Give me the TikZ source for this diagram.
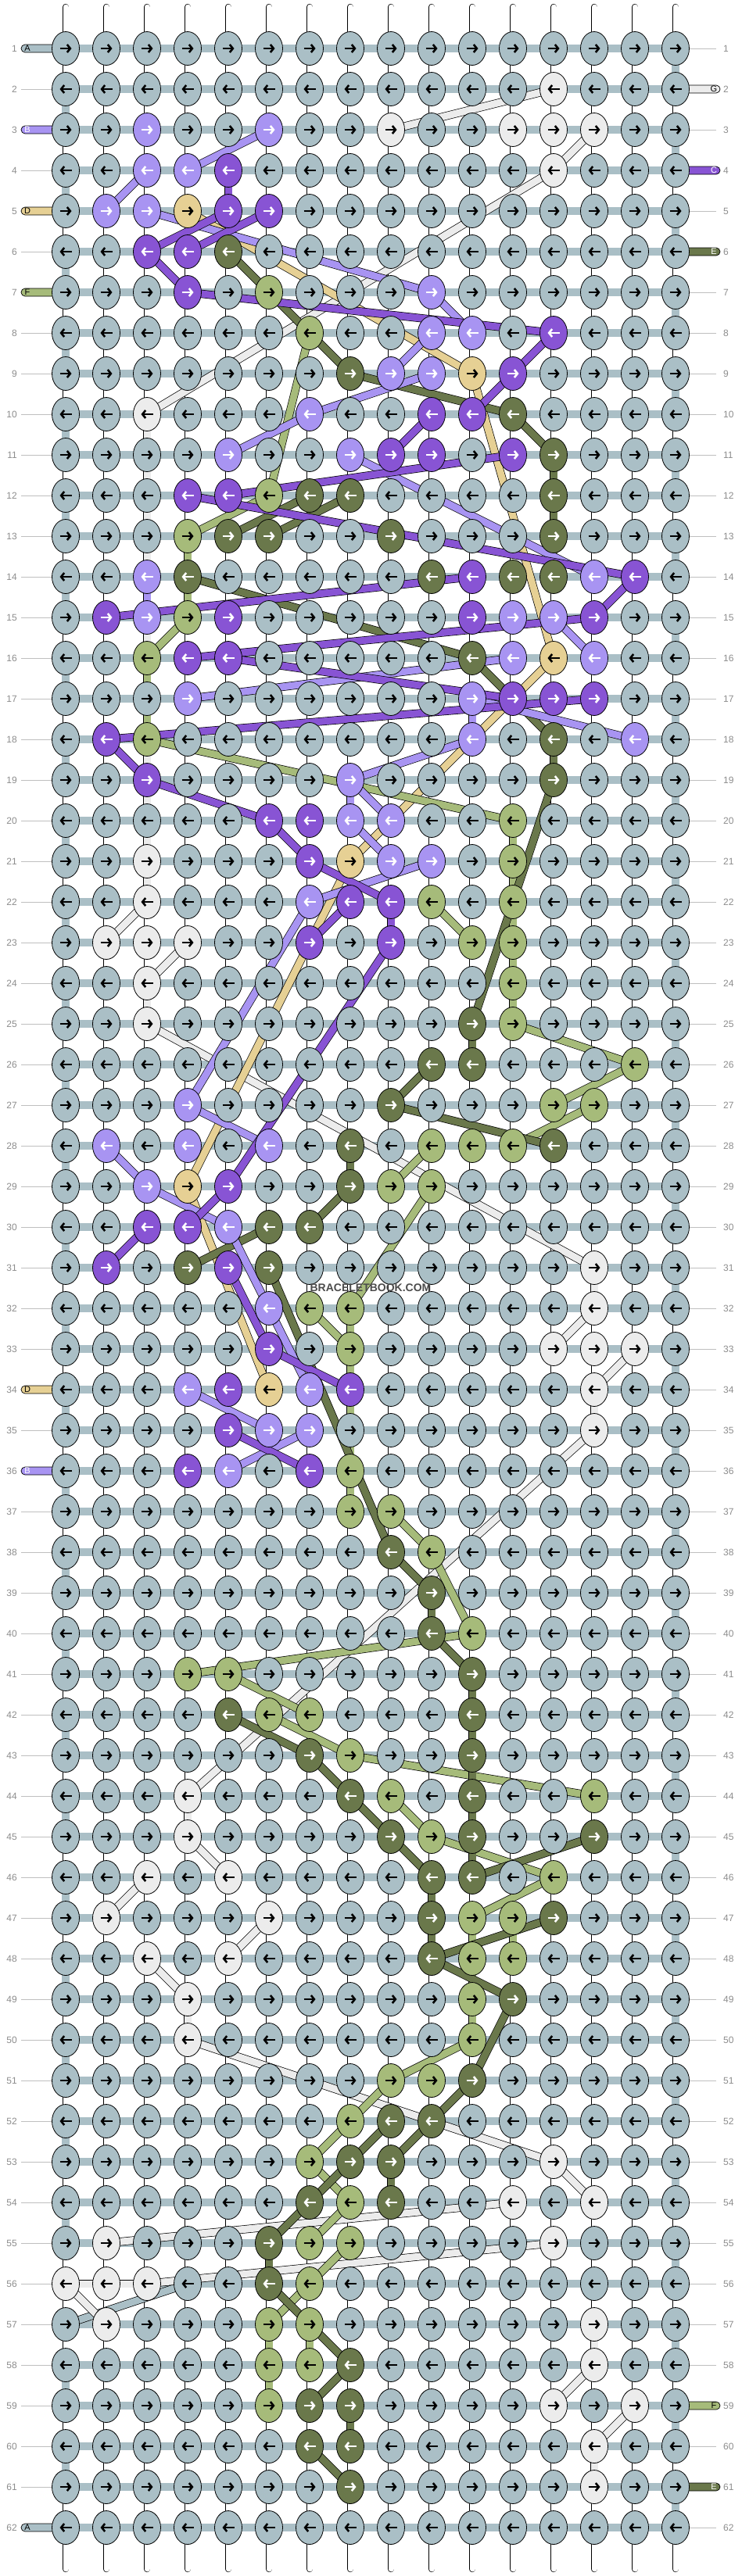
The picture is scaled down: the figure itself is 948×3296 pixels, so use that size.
\documentclass[tikz,border=0pt]{standalone}
\usepackage{fontspec}
\setmainfont{Liberation Sans}
\usepackage{xstring}
\usetikzlibrary{shapes.geometric,arrows.meta}

\definecolor{knota}{RGB}{170,191,198}
\definecolor{knotb}{RGB}{168,148,242}
\definecolor{knotc}{RGB}{136,84,212}
\definecolor{knotd}{RGB}{230,208,148}
\definecolor{knote}{RGB}{106,120,75}
\definecolor{knotf}{RGB}{166,187,122}
\definecolor{knotg}{RGB}{236,236,236}
\colorlet{tipa}{black}
\colorlet{tipb}{white}
\colorlet{tipc}{white}
\colorlet{tipd}{black}
\colorlet{tipe}{white}
\colorlet{tipf}{black}
\colorlet{tipg}{black}

\pgfdeclarelayer{tubes}
\pgfdeclarelayer{strands}
\pgfsetlayers{tubes,strands,main}

\begin{document}
\begin{tikzpicture} [
      x = 1pt, y = -1pt,
      knot/.style = { ellipse, draw, line width = 0.8pt, minimum width = 35pt, minimum height = 43pt, inner sep = 0 },
      tube/.style = { line width = 0.7pt, double = white, double distance = 7pt },
      strand/.style = { line width = 0.7pt, double = #1, double distance = 9pt },
      bar/.style = { line width = 10pt, knota },
      edgebar/.style = { line width = 9.2pt, knota },
      tip/.style = { line width = 2.6pt, -{Straight Barb[length=4pt, width=10pt]} },
      rownum/.style = { text = black!45, font = \fontsize{12}{12}\selectfont, inner sep = 0 },
      endtag/.style = { draw, line width = 0.7pt, rounded corners = 5pt }
      ]
      \useasboundingbox (0,0) rectangle (948,3296);

      % knots, row by row
      \foreach \r/\pat in {1/aaaaaaaaaaaaaaaa, 2/aaaaaaaaaaaagaaa, 3/aabaabaagaagggaa, 4/aabbcaaaaaaagaaa,
        5/abbdccaaaaaaaaaa, 6/aacceaaaaaaaaaaa, 7/aaacafaaabaaaaaa, 8/aaaaaafaabbacaaa,
        9/aaaaaaaebbdcaaaa, 10/aagaaabaacceaaaa, 11/aaaabaabccaceaaa, 12/aaaccfeeaaaaeaaa,
        13/aaafeeaaeaaaeaaa, 14/aabeaaaaaeceebca, 15/acbfcaaaaacbbcaa, 16/aafccaaaaaebdbaa,
        17/aaabaaaaaabcccaa, 18/acfaaaaaaabaeaba, 19/aacaaaabaaaaeaaa, 20/aaaaaccbbaafaaaa,
        21/aagaaacdbbafaaaa, 22/aagaaabccfafaaaa, 23/agggaacacaffaaaa, 24/aagaaaaaaaafaaaa,
        25/aagaaaaaaaefaaaa, 26/aaaaaaaaaeeaaafa, 27/aaabaaaaeaaaffaa, 28/abababaeafffeaaa,
        29/aabdcaaeffaaaaaa, 30/aaccbeeaaaaaaaaa, 31/acaeceaaaaaaagaa, 32/aaaaabffaaaaagaa,
        33/aaaaacafaaaaggga, 34/aaabcdbcaaaaagaa, 35/aaaacbbaaaaaagaa, 36/aaacbacfaaaaaaaa,
        37/aaaaaaaffaaaaaaa, 38/aaaaaaaaefaaaaaa, 39/aaaaaaaaaeaaaaaa, 40/aaaaaaaaaefaaaaa,
        41/aaaffaaaaaeaaaaa, 42/aaaaeffaaaeaaaaa, 43/aaaaaaefaaeaaaaa, 44/aaagaaaefaeaafaa,
        45/aaagaaaaefeaaeaa, 46/aagagaaaaeeafaaa, 47/agaaagaaaeffeaaa, 48/aagagaaaaeffaaaa,
        49/aaagaaaaaafeaaaa, 50/aaagaaaaaafaaaaa, 51/aaaaaaaaffeaaaaa, 52/aaaaaaafeeaaaaaa,
        53/aaaaaafeeaaagaaa, 54/aaaaaaefeaagagaa, 55/agaaaeffaaaagaaa, 56/gggaaefaaaaaaaaa,
        57/agaaaffaaaaaagaa, 58/aaaaaffeaaaaagaa, 59/aaaaafeeaaaagaga, 60/aaaaaaeeaaaaagaa,
        61/aaaaaaaeaaaaagaa, 62/aaaaaaaaaaaaaaaa} {
        \pgfmathsetmacro\dir{isodd(\r) ? 1 : -1}
        \foreach \c in {1,...,16} {
          \StrChar{\pat}{\c}[\ch]
          \edef\kc{knot\ch}
          \edef\tc{tip\ch}
          \node [knot, fill = \kc] (k\r-\c) at ({84+52*(\c-1)}, {62+52*(\r-1)}) {};
          \draw [tip, draw = \tc] (k\r-\c.center) ++(-7.5*\dir,0) -- ++(15*\dir,0);
        }
      }

      \begin{pgfonlayer}{tubes}
        \foreach \c in {1,...,16} {
          \draw [tube, line cap = round] (k1-\c.center) -- ++(0,-53);
          \draw [tube, line cap = round] (k62-\c.center) -- ++(0,53);
          \foreach \r in {1,...,61} {
            \pgfmathtruncatemacro\nr{\r+1}
            \draw [tube] (k\r-\c.center) -- (k\nr-\c.center);
          }
        }
        \foreach \r in {1,...,62} {
          \pgfmathsetmacro\y{62+52*(\r-1)}
          \draw [bar] (k\r-1.center) -- (k\r-16.center);
          \draw [black!25, line width = 0.8pt] (27,\y) -- (k\r-1.center);
          \draw [black!25, line width = 0.8pt] (k\r-16.center) -- (916,\y);
          \node [rownum, anchor = east] (nl\r) at (22,\y) {\r};
          \node [rownum, anchor = west] (nr\r) at (925,\y) {\r};
        }
        \foreach \r in {2,4,...,60} {
          \pgfmathtruncatemacro\nr{\r+1}
          \ifnum\r=56 \else \draw [edgebar] (k\r-1.center) -- (k\nr-1.center); \fi
        }
        \foreach \r in {1,3,...,61} {
          \pgfmathtruncatemacro\nr{\r+1}
          \draw [edgebar] (k\r-16.center) -- (k\nr-16.center);
        }
        % string ends
        \foreach \r/\l/\ch in {1/A/a, 3/B/b, 5/D/d, 7/F/f, 34/D/d, 36/B/b, 62/A/a} {
          \pgfmathsetmacro\y{62+52*(\r-1)}
          \edef\kc{knot\ch}
          \edef\tc{tip\ch}
          \draw [endtag, fill = \kc] (27,\y-5) rectangle (80,\y+5);
          \node [text = \tc, font = \fontsize{11}{11}\selectfont, inner sep = 0] (tl\r) at (35,\y) {\l};
        }
        \foreach \r/\l/\ch in {2/G/g, 4/C/c, 6/E/e, 59/F/f, 61/E/e} {
          \pgfmathsetmacro\y{62+52*(\r-1)}
          \edef\kc{knot\ch}
          \edef\tc{tip\ch}
          \draw [endtag, fill = \kc] (868,\y-5) rectangle (921,\y+5);
          \node [text = \tc, font = \fontsize{11}{11}\selectfont, inner sep = 0] (tr\r) at (913,\y) {\l};
        }
      \end{pgfonlayer}

      \begin{pgfonlayer}{strands}
        \draw [strand = knotg] (k56-1.center) -- (k56-3.center);
        \draw [strand = knota] (k56-4.center) -- (k57-1.center);
        \foreach \a/\b in {2-13/3-9, 3-14/4-13, 4-13/10-3, 10-3/22-3, 22-3/23-2, 23-4/24-3, 24-3/25-3,
          25-3/31-14, 31-14/32-14, 32-14/33-13, 33-15/34-14, 34-14/35-14, 35-14/44-4, 44-4/45-4,
          45-4/46-5, 46-3/47-2, 47-6/48-5, 48-3/49-4, 49-4/50-4, 50-4/53-13, 53-13/54-14,
          54-12/55-2, 55-13/56-3, 56-1/57-2, 57-14/58-14, 58-14/59-13, 59-15/60-14, 60-14/61-14}
          \draw [strand = knotg] (k\a.center) -- (k\b.center);
        \foreach \a/\b in {5-4/9-11, 9-11/16-13, 16-13/21-8, 21-8/29-4, 29-4/34-6}
          \draw [strand = knotd] (k\a.center) -- (k\b.center);
        \foreach \a/\b in {8-7/12-6, 12-6/13-4, 13-4/15-4, 15-4/16-3, 16-3/18-3, 18-3/20-12, 20-12/25-12,
          22-10/23-11, 25-12/26-15, 26-15/27-13, 27-14/28-12, 28-10/29-9, 29-10/32-8, 32-7/33-8,
          32-8/37-8, 37-9/38-10, 38-10/40-11, 40-11/41-4, 41-5/42-7, 42-6/43-8, 43-8/44-14,
          44-9/45-10, 45-10/46-13, 46-13/47-11, 47-12/48-12, 47-11/50-11, 50-11/51-9, 51-9/52-8,
          52-8/53-7, 53-7/54-8, 54-8/55-7, 55-8/56-7, 56-7/57-6, 57-6/59-6, 57-7/58-7}
          \draw [strand = knotf] (k\a.center) -- (k\b.center);
        \foreach \a/\b in {6-5/9-8, 9-8/10-12, 10-12/11-13, 11-13/14-13, 12-7/13-5, 12-8/13-6, 14-4/16-11,
          16-11/18-13, 18-13/19-13, 19-13/25-11, 25-11/26-11, 26-10/27-9, 27-9/28-13, 28-8/29-8,
          29-8/30-7, 30-6/31-4, 31-6/38-9, 38-9/39-10, 39-10/40-10, 40-10/41-11, 41-11/46-11,
          42-5/43-7, 43-7/44-8, 44-8/45-9, 45-9/46-10, 45-14/46-11, 46-10/48-10, 47-13/48-10,
          48-10/49-12, 49-12/51-11, 51-11/52-10, 52-9/53-8, 52-10/53-9, 53-9/54-9, 53-8/54-7,
          54-7/55-6, 55-6/56-6, 56-6/58-8, 58-8/59-7, 59-8/60-8, 60-7/61-8}
          \draw [strand = knote] (k\a.center) -- (k\b.center);
        \foreach \a/\b in {3-6/4-4, 4-3/5-2, 5-3/7-10, 7-10/8-11, 8-10/9-9, 9-10/10-7, 10-7/11-5,
          11-8/14-14, 14-3/15-3, 15-13/16-14, 16-12/17-4, 17-11/18-11, 17-11/18-15, 18-11/19-8,
          19-8/20-8, 19-8/20-9, 20-8/21-9, 21-10/22-7, 22-7/27-4, 27-4/28-6, 28-2/29-3, 29-3/30-5,
          30-5/32-6, 32-6/34-7, 34-4/35-6, 35-7/36-5}
          \draw [strand = knotb] (k\a.center) -- (k\b.center);
        \foreach \a/\b in {4-5/5-5, 5-5/6-3, 5-6/6-4, 6-3/7-4, 7-4/8-13, 8-13/9-12, 9-12/10-11,
          10-10/11-9, 11-12/12-5, 12-4/14-15, 14-15/15-14, 14-11/15-2, 15-14/16-4, 16-5/17-12,
          17-14/18-2, 18-2/19-3, 19-3/20-6, 20-6/21-7, 21-7/22-9, 22-8/23-7, 22-9/23-9, 23-9/29-5,
          29-5/30-4, 30-3/31-2, 31-5/33-6, 33-6/34-8, 35-5/36-7}
          \draw [strand = knotc] (k\a.center) -- (k\b.center);
      \end{pgfonlayer}

      \node [font = \bfseries\fontsize{14}{14}\selectfont, text = black!70, inner sep = 1pt] (mark) at (474,1648) {BRACELETBOOK.COM};
\end{tikzpicture}
\end{document}
